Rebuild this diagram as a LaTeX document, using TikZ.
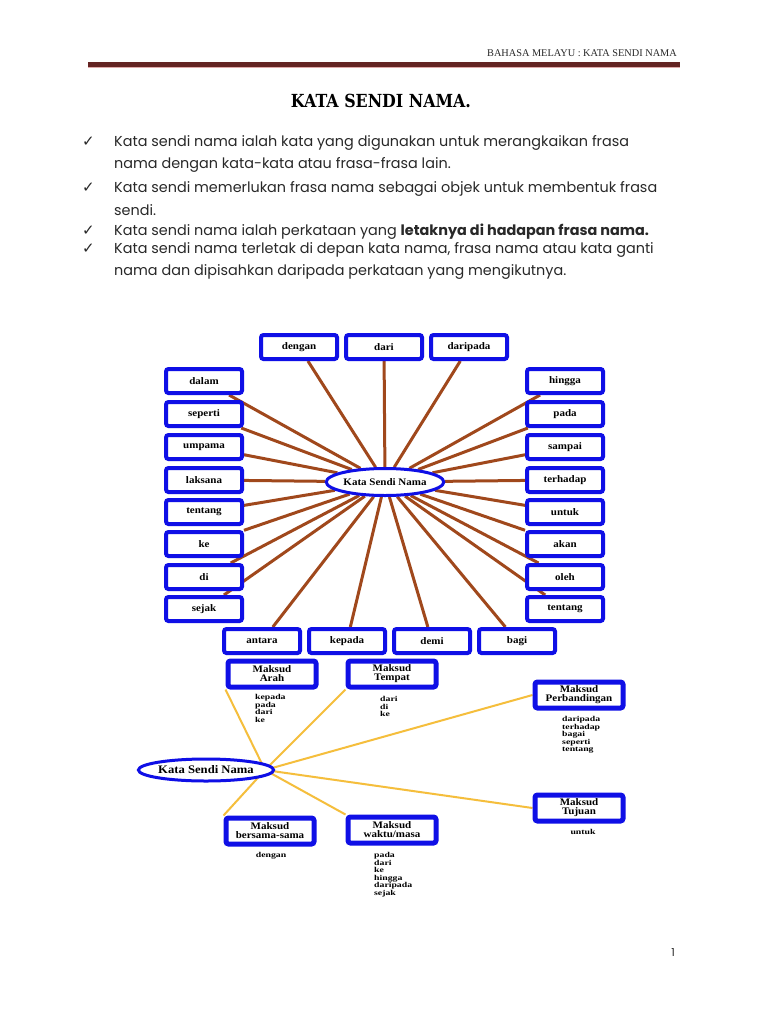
\documentclass[tikz,border=0pt]{standalone}
\usepackage{graphicx}
\usepackage{fontspec}
\setmainfont{Liberation Serif}
\newfontfamily\bodyfont{Poppins}
\newfontfamily\symfont{DejaVu Sans}
\newfontfamily\titlefont{DejaVu Serif}
\usetikzlibrary{shapes.geometric}
\pgfdeclarelayer{bg}
\pgfsetlayers{bg,main}
\definecolor{barred}{RGB}{100,36,35}
\definecolor{barpink}{RGB}{225,170,170}
\definecolor{spoke}{RGB}{160,72,28}
\definecolor{boxblue}{RGB}{15,15,230}
\definecolor{yel}{RGB}{245,190,60}
\definecolor{txt}{RGB}{40,40,40}
\newcommand{\wideb}[1]{\scalebox{1.1}[1]{#1}}
\newcommand{\listw}[1]{\scalebox{1.3}[1]{#1}}
\tikzset{
 wbox/.style={draw=boxblue, line width=4pt, rounded corners=2.5pt, fill=white, minimum width=76pt, minimum height=24pt, inner sep=0pt, font=\bfseries\fontsize{10}{11}\selectfont},
 mbox/.style={draw=boxblue, line width=5pt, rounded corners=2.5pt, fill=white, minimum width=88pt, minimum height=26pt, inner sep=0pt, align=center, font=\bfseries\fontsize{10}{9}\selectfont},
 hubell/.style={ellipse, draw=boxblue, line width=3pt, fill=white, minimum width=103pt, minimum height=27pt, inner sep=0pt, font=\bfseries\fontsize{10}{11}\selectfont},
 hubell2/.style={ellipse, draw=boxblue, line width=3pt, fill=white, minimum width=119pt, minimum height=22pt, inner sep=0pt, font=\bfseries\fontsize{11.5}{12}\selectfont},
 spk/.style={draw=spoke, line width=3pt},
 ylw/.style={draw=yel, line width=2pt},
 sub/.style={anchor=north west, align=left, inner sep=0pt, font=\bfseries\fontsize{7.5}{7.5}\selectfont},
 subc/.style={anchor=center, inner sep=0pt, font=\bfseries\fontsize{7.5}{7.5}\selectfont},
 body/.style={anchor=base west, inner sep=0pt, font=\bodyfont\fontsize{14.4}{16}\selectfont, text=txt},
 chk/.style={anchor=base west, inner sep=0pt, font=\symfont\fontsize{15}{17}\selectfont, text=txt},
}
\begin{document}
\begin{tikzpicture}[x=1pt,y=-1pt]
\useasboundingbox (0,0) rectangle (768,1024);
\begin{pgfonlayer}{bg}
\fill[white] (0,0) rectangle (768,1024);
\end{pgfonlayer}
% header
\node[anchor=base east, inner sep=0pt, font=\fontsize{10.3}{12}\selectfont, text=txt] (hdr) at (677,57) {BAHASA MELAYU : KATA SENDI NAMA};
\fill[barpink] (88,66) rectangle (680,68.5);
\fill[barred] (88,62.5) rectangle (680,67);
% title
\node[anchor=base, inner sep=0pt, font=\titlefont\bfseries\fontsize{18}{20}\selectfont] (title) at (381,108) {\scalebox{0.88}[1]{KATA SENDI NAMA.}};
% bullets
\node[chk] (c1) at (82,146.5) {✓};
\node[chk] (c2) at (82,192.5) {✓};
\node[chk] (c3) at (82,235.5) {✓};
\node[chk] (c4) at (82,253.5) {✓};
\node[body] (b1) at (114,146.5) {Kata sendi nama ialah kata yang digunakan untuk merangkaikan frasa};
\node[body] (b2) at (114,168.5) {nama dengan kata-kata atau frasa-frasa lain.};
\node[body] (b3) at (114,192.5) {Kata sendi memerlukan frasa nama sebagai objek untuk membentuk frasa};
\node[body] (b4) at (114,215.5) {sendi.};
\node[body] (b5) at (114,235.5) {Kata sendi nama ialah perkataan yang \textbf{letaknya di hadapan frasa nama.}};
\node[body] (b6) at (114,253.5) {Kata sendi nama terletak di depan kata nama, frasa nama atau kata ganti};
\node[body] (b7) at (114,275.5) {nama dan dipisahkan daripada perkataan yang mengikutnya.};
% upper diagram
\node[hubell] (hub) at (385,482) {\wideb{Kata Sendi Nama}};
\node[wbox] (t1) at (299,347) {\wideb{dengan}};
\node[wbox] (t2) at (384,347) {\wideb{dari}};
\node[wbox] (t3) at (469,347) {\wideb{daripada}};
\node[wbox] (l1) at (204,381) {\wideb{dalam}};
\node[wbox] (l2) at (204,414) {\wideb{seperti}};
\node[wbox] (l3) at (204,447) {\wideb{umpama}};
\node[wbox] (l4) at (204,480) {\wideb{laksana}};
\node[wbox] (l5) at (204,512) {\wideb{tentang}};
\node[wbox] (l6) at (204,544) {\wideb{ke}};
\node[wbox] (l7) at (204,577) {\wideb{di}};
\node[wbox] (l8) at (204,609) {\wideb{sejak}};
\node[wbox] (r1) at (565,381) {\wideb{hingga}};
\node[wbox] (r2) at (565,414) {\wideb{pada}};
\node[wbox] (r3) at (565,447) {\wideb{sampai}};
\node[wbox] (r4) at (565,480) {\wideb{terhadap}};
\node[wbox] (r5) at (565,512) {\wideb{untuk}};
\node[wbox] (r6) at (565,544) {\wideb{akan}};
\node[wbox] (r7) at (565,577) {\wideb{oleh}};
\node[wbox] (r8) at (565,609) {\wideb{tentang}};
\node[wbox] (d1) at (262,641) {\wideb{antara}};
\node[wbox] (d2) at (347,641) {\wideb{kepada}};
\node[wbox] (d3) at (432,641) {\wideb{demi}};
\node[wbox] (d4) at (517,641) {\wideb{bagi}};
\begin{pgfonlayer}{bg}
\foreach \n in {t1,t2,t3,l1,l2,l3,l4,l5,l6,l7,l8,r1,r2,r3,r4,r5,r6,r7,r8,d1,d2,d3,d4}
  \draw[spk] (\n) -- (hub);
\end{pgfonlayer}
% lower diagram
\node[hubell2] (hub2) at (206,770) {\wideb{Kata Sendi Nama}};
\coordinate (hc) at (265,770);
\node[mbox] (arah) at (272,674) {\wideb{Maksud}\\\wideb{Arah}};
\node[mbox] (tempat) at (392,674) {\wideb{Maksud}\\\wideb{Tempat}};
\node[mbox] (banding) at (579,695) {\wideb{Maksud}\\\wideb{Perbandingan}};
\node[mbox] (tujuan) at (579,808) {\wideb{Maksud}\\\wideb{Tujuan}};
\node[mbox] (bersama) at (270,831) {\wideb{Maksud}\\\wideb{bersama-sama}};
\node[mbox] (waktu) at (392,830) {\wideb{Maksud}\\\wideb{waktu/masa}};
\begin{pgfonlayer}{bg}
\draw[ylw] (hc) -- (arah.south west);
\draw[ylw] (hc) -- (tempat.south west);
\draw[ylw] (hc) -- (banding.west);
\draw[ylw] (hc) -- (tujuan.west);
\draw[ylw] (hc) -- (bersama.north west);
\draw[ylw] (hc) -- (waktu.north west);
\end{pgfonlayer}
\node[sub] (sa) at (255,694.5) {\listw{kepada}\\\listw{pada}\\\listw{dari}\\\listw{ke}};
\node[sub] (st) at (380,696.5) {\listw{dari}\\\listw{di}\\\listw{ke}};
\node[sub] (sp) at (562,716.5) {\listw{daripada}\\\listw{terhadap}\\\listw{bagai}\\\listw{seperti}\\\listw{tentang}};
\node[subc] (su) at (583,832) {\listw{untuk}};
\node[subc] (sb) at (271,856) {\listw{dengan}};
\node[sub] (sw) at (374,852.5) {\listw{pada}\\\listw{dari}\\\listw{ke}\\\listw{hingga}\\\listw{daripada}\\\listw{sejak}};
% page number
\node[anchor=base, inner sep=0pt, font=\bodyfont\fontsize{11}{13}\selectfont, text=txt] (pg) at (673,956.5) {1};
\end{tikzpicture}
\end{document}
